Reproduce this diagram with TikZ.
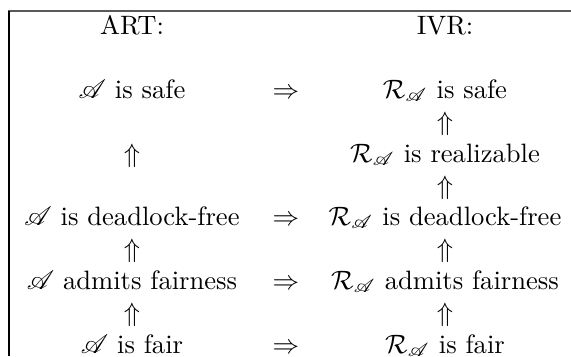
\documentclass[tikz,border=0pt]{standalone}
\usepackage{amsmath,amssymb}
\usepackage{mathrsfs}
\begin{document}
\begin{tikzpicture}[x=0.3762pt,y=-0.3762pt,
  lbl/.style={inner sep=0pt, anchor=base},
  rule/.style={line width=0.5pt}]
\useasboundingbox (0,0) rectangle (571,356);
% frame
\draw[rule, black!65] (8,11) -- (571,11);
\draw[rule] (9,11) -- (9,356);
% headers
\node[lbl] (art) at (132,34) {ART:};
\node[lbl] (ivr) at (445,34) {IVR:};
% left column
\node[lbl] (asafe) at (132,98) {$\mathscr{A}$ is safe};
\node[lbl] (aup1) at (132,162) {$\Uparrow$};
\node[lbl] (adead) at (132,225) {$\mathscr{A}$ is deadlock-free};
\node[lbl] (aup2) at (132,257) {$\Uparrow$};
\node[lbl] (aadm) at (132,289) {$\mathscr{A}$ admits fairness};
\node[lbl] (aup3) at (132,321) {$\Uparrow$};
\node[lbl] (afair) at (132,353) {$\mathscr{A}$ is fair};
% middle column
\node[lbl] (imp1) at (286,98) {$\Rightarrow$};
\node[lbl] (imp2) at (286,225) {$\Rightarrow$};
\node[lbl] (imp3) at (286,289) {$\Rightarrow$};
\node[lbl] (imp4) at (286,353) {$\Rightarrow$};
% right column
\node[lbl] (rsafe) at (445,98) {$\mathcal{R}_{\mathscr{A}}$ is safe};
\node[lbl] (rup1) at (445,130) {$\Uparrow$};
\node[lbl] (rreal) at (445,162) {$\mathcal{R}_{\mathscr{A}}$ is realizable};
\node[lbl] (rup2) at (445,194) {$\Uparrow$};
\node[lbl] (rdead) at (445,225) {$\mathcal{R}_{\mathscr{A}}$ is deadlock-free};
\node[lbl] (rup3) at (445,257) {$\Uparrow$};
\node[lbl] (radm) at (445,289) {$\mathcal{R}_{\mathscr{A}}$ admits fairness};
\node[lbl] (rup4) at (445,321) {$\Uparrow$};
\node[lbl] (rfair) at (445,353) {$\mathcal{R}_{\mathscr{A}}$ is fair};
\end{tikzpicture}
\end{document}
